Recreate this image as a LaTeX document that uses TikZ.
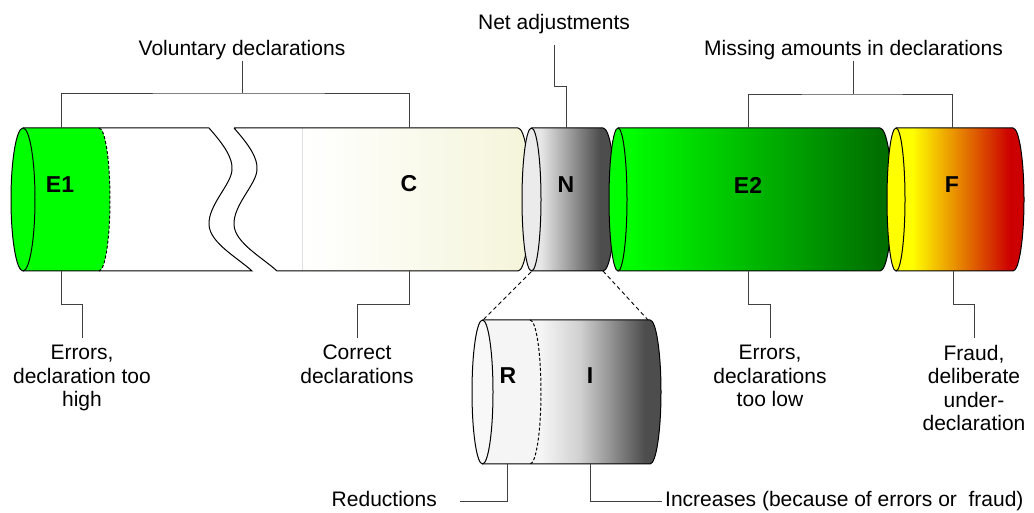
\documentclass[tikz,border=0pt]{standalone}
\usepackage{fontspec}
\setmainfont{Liberation Sans}
\definecolor{gA}{HTML}{00FF00}
\definecolor{gB}{HTML}{006E00}
\definecolor{beigeC}{HTML}{F5F5DC}
\definecolor{nA}{HTML}{E6E6E6}
\definecolor{nB}{HTML}{4D4D4D}
\definecolor{nFace}{HTML}{EBEBEB}
\definecolor{fY}{HTML}{FFFF00}
\definecolor{fO}{HTML}{E39A00}
\definecolor{fR}{HTML}{CC0000}
\definecolor{rA}{HTML}{F5F5F5}
\definecolor{rM}{HTML}{D0D0D0}
\definecolor{rFace}{HTML}{F8F8F8}
\begin{document}
\begin{tikzpicture}[x=1pt,y=1pt,
  outl/.style={draw=black,line width=1pt},
  conn/.style={draw=black!75,line width=0.9pt},
  lbl/.style={inner sep=0pt,font=\fontsize{21}{23.5}\selectfont},
  mlbl/.style={lbl,align=center,anchor=north},
  seg/.style={inner sep=0pt,font=\fontsize{23}{25}\selectfont\bfseries},
  zoomline/.style={draw=black,line width=0.9pt,dash pattern=on 4pt off 3pt},
  cutline/.style={draw=black,line width=1pt,dash pattern=on 3pt off 2pt}]
\useasboundingbox (0,0) rectangle (1034,513);
\fill[white] (0,0) rectangle (1034,513);

% ---------- left piece (E1 + start of voluntary declarations)
\fill[white] (23,385) -- (209,385) .. controls (224,368) and (233,355) .. (232,343)
  .. controls (231,328) and (208,308) .. (209,288) .. controls (210,270) and (238,255) .. (252,242)
  -- (23,242) -- cycle;
\fill[gA] (23,385) -- (99,385) arc[start angle=90,end angle=-90,x radius=11,y radius=71.5] -- (23,242) -- cycle;
\draw[cutline] (99,385) arc[start angle=90,end angle=-90,x radius=11,y radius=71.5];
\draw[outl] (23,385) -- (209,385) .. controls (224,368) and (233,355) .. (232,343)
  .. controls (231,328) and (208,308) .. (209,288) .. controls (210,270) and (238,255) .. (252,242)
  -- (23,242);
\draw[outl,fill=gA] (23,313.5) ellipse[x radius=12,y radius=71.5];

% ---------- C piece
\begin{scope}
\clip (234,385) -- (518,385) arc[start angle=90,end angle=-90,x radius=12,y radius=71.5] -- (277,242)
  .. controls (263,255) and (235,270) .. (234,288) .. controls (233,308) and (256,328) .. (257,343)
  .. controls (258,355) and (249,368) .. (234,385) -- cycle;
\fill[white] (225,235) rectangle (302,395);
\shade[left color=white,right color=beigeC] (302,235) rectangle (518,395);
\fill[beigeC] (518,235) rectangle (535,395);
\end{scope}
\draw[black!12,line width=0.8pt] (302,385) -- (302,242);
\draw[outl] (234,385) -- (518,385) arc[start angle=90,end angle=-90,x radius=12,y radius=71.5] -- (277,242)
  .. controls (263,255) and (235,270) .. (234,288) .. controls (233,308) and (256,328) .. (257,343)
  .. controls (258,355) and (249,368) .. (234,385);

% ---------- N
\begin{scope}
\clip (531.5,385) -- (603,385) arc[start angle=90,end angle=-90,x radius=12,y radius=71.5] -- (531.5,242) -- cycle;
\fill[nA] (520,235) rectangle (541,395);
\shade[left color=nA,right color=nB] (541,235) rectangle (600,395);
\fill[nB] (600,235) rectangle (620,395);
\end{scope}
\draw[outl] (531.5,385) -- (603,385) arc[start angle=90,end angle=-90,x radius=12,y radius=71.5] -- (531.5,242);
\draw[outl,fill=nFace] (531.5,313.5) ellipse[x radius=9.5,y radius=71.5];

% ---------- E2
\begin{scope}
\clip (618,385) -- (880,385) arc[start angle=90,end angle=-90,x radius=12,y radius=71.5] -- (618,242) -- cycle;
\fill[gA] (605,235) rectangle (628,395);
\shade[left color=gA,right color=gB] (628,235) rectangle (882,395);
\fill[gB] (882,235) rectangle (900,395);
\end{scope}
\draw[outl] (618,385) -- (880,385) arc[start angle=90,end angle=-90,x radius=12,y radius=71.5] -- (618,242);
\draw[outl,fill=gA] (618,313.5) ellipse[x radius=9,y radius=71.5];

% ---------- F
\begin{scope}
\clip (896,385) -- (1013,385) arc[start angle=90,end angle=-90,x radius=11,y radius=71.5] -- (896,242) -- cycle;
\fill[fY] (885,235) rectangle (912,395);
\shade[left color=fY,middle color=fO,right color=fR] (912,235) rectangle (1010,395);
\fill[fR] (1010,235) rectangle (1030,395);
\end{scope}
\draw[outl] (896,385) -- (1013,385) arc[start angle=90,end angle=-90,x radius=11,y radius=71.5] -- (896,242);
\draw[outl,fill=fY] (896,313.5) ellipse[x radius=9,y radius=71.5];

% ---------- segment labels
\node[seg] (E1) at (60,328) {E1};
\node[seg] (C) at (409,329) {C};
\node[seg] (N) at (566,328) {N};
\node[seg] (E2) at (748,328) {E2};
\node[seg] (F) at (952,328) {F};

% ---------- zoomed N cylinder
\begin{scope}
\clip (482.5,193) -- (650,193) arc[start angle=90,end angle=-90,x radius=11,y radius=72] -- (482.5,49) -- cycle;
\fill[rA] (470,40) rectangle (541,200);
\shade[left color=rA,right color=rM] (541,40) rectangle (580,200);
\shade[left color=rM,right color=nB] (580,40) rectangle (645,200);
\fill[nB] (645,40) rectangle (665,200);
\end{scope}
\draw[cutline] (530,193) arc[start angle=90,end angle=-90,x radius=11,y radius=72];
\draw[outl] (482.5,193) -- (650,193) arc[start angle=90,end angle=-90,x radius=11,y radius=72] -- (482.5,49);
\draw[outl,fill=rFace] (482.5,121) ellipse[x radius=10.5,y radius=72];
\node[seg] (R) at (508,137) {R};
\node[seg] (I) at (590,137) {I};

% zoom connectors
\coordinate (nzl) at (531,241);
\coordinate (nzr) at (603,242);
\coordinate (zl) at (483,193);
\coordinate (zr) at (648,193);
\draw[zoomline] (nzl) -- (zl);
\draw[zoomline] (nzr) -- (zr);

% ---------- anchor points on cylinders
\coordinate (e1t) at (61,385);
\coordinate (e1b) at (61,242);
\coordinate (ct) at (409,385);
\coordinate (cb) at (409,242);
\coordinate (nt) at (566,385);
\coordinate (e2t) at (748,385);
\coordinate (e2b) at (748,242);
\coordinate (ft) at (952,385);
\coordinate (fb) at (953,242);
\coordinate (rb) at (507,49);
\coordinate (ib) at (590,49);
\coordinate (vj) at (242,420);
\coordinate (mj) at (853.5,419);

% ---------- top labels and brackets
\node[lbl,anchor=base] (vol) at (242,457) {Voluntary declarations};
\node[lbl,anchor=base] (net) at (554,483) {Net adjustments};
\node[lbl,anchor=base] (miss) at (853.5,457) {Missing amounts in declarations};
\draw[conn] (vol.south) -- (vj);
\draw[conn] (e1t) |- (vj) -| (ct);
\draw[conn,shorten <=10pt] (net.south) -- ++(0,-52) -| (nt);
\draw[conn] (miss.south) -- (mj);
\draw[conn] (e2t) |- (mj) -| (ft);

% ---------- bottom labels and brackets
\node[mlbl] (e1lab) at (82,168) {Errors,\\declaration too\\high};
\node[mlbl] (clab) at (357,168) {Correct\\declarations};
\node[mlbl] (e2lab) at (770,168) {Errors,\\declarations\\too low};
\node[mlbl] (flab) at (974,168) {Fraud,\\deliberate\\under-\\declaration};
\draw[conn,shorten >=7pt] (e1b) -- ++(0,-33) -| (e1lab.north);
\draw[conn,shorten >=7pt] (cb) -- ++(0,-33) -| (clab.north);
\draw[conn,shorten >=7pt] (e2b) -- ++(0,-33) -| (e2lab.north);
\draw[conn,shorten >=7pt] (fb) -- ++(0,-33) -| (flab.north);

\node[lbl,anchor=base east,text height=15pt,text depth=4.5pt] (red) at (437,6) {Reductions};
\node[lbl,anchor=base west,text height=15pt,text depth=4.5pt] (inc) at (665,6) {Increases (because of errors or \ fraud)};
\draw[conn] (rb) |- ([xshift=23pt]red.east);
\draw[conn] (ib) |- ([xshift=-3pt]inc.west);
\end{tikzpicture}
\end{document}
